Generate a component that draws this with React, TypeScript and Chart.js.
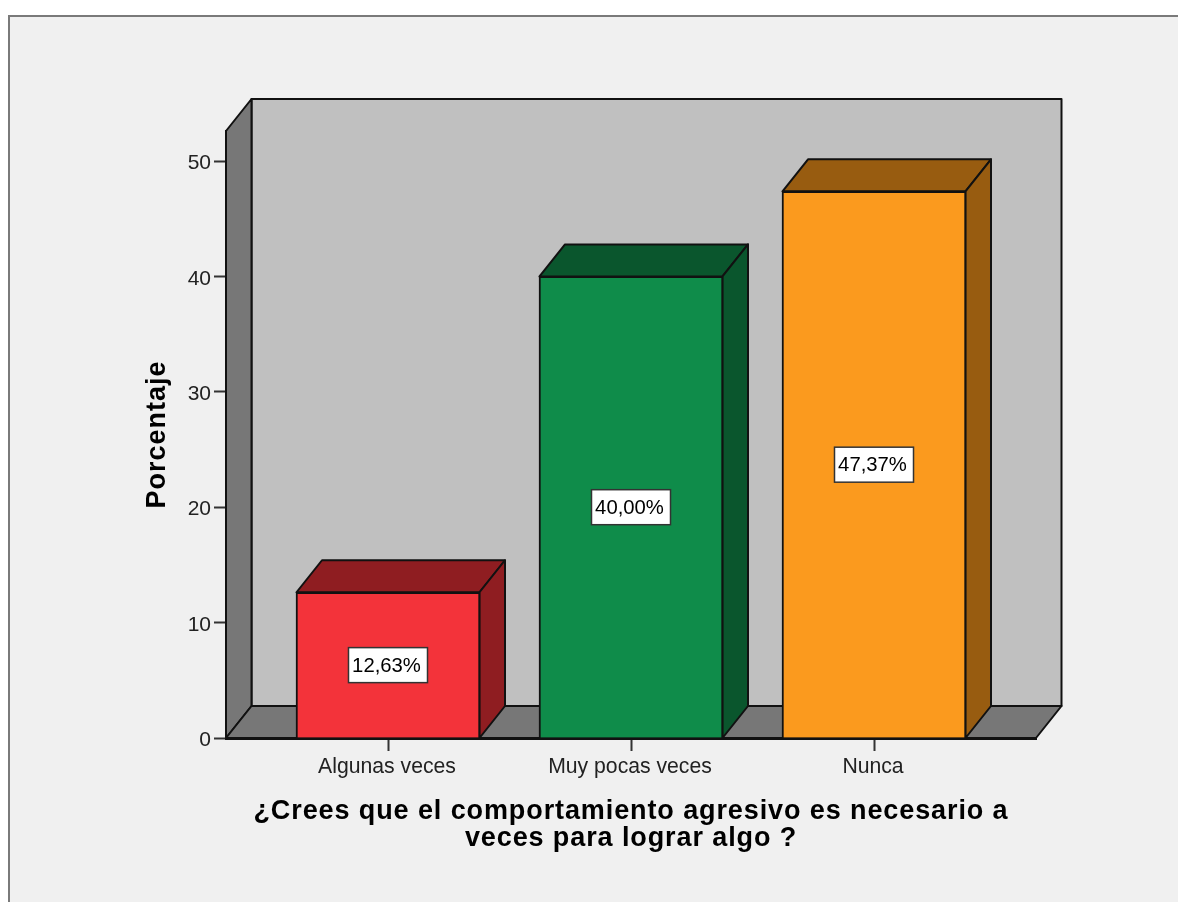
import { useEffect, useRef } from "react";
import { Chart, registerables } from "chart.js";

Chart.register(...registerables);

const categories = ["Algunas veces", "Muy pocas veces", "Nunca"];
const percentages = [12.63, 40.0, 47.37];
const valueLabels = ["12,63%", "40,00%", "47,37%"];
const frontColors = ["#f3333a", "#0f8c4a", "#fb9a1e"];
const shadeColors = ["#8f1d21", "#0a562d", "#985c10"];
const yTitle = "Porcentaje";
const xTitle = ["¿Crees que el comportamiento agresivo es necesario a", "veces para lograr algo ?"];

const FONT = "'Liberation Sans', Arial, sans-serif";
const DX = 25.5;
const DY = 32;
const BAR_W = 183;

function poly(ctx: CanvasRenderingContext2D, pts: number[][], fill: string, lw = 2) {
  ctx.beginPath();
  pts.forEach((p, i) => (i ? ctx.lineTo(p[0], p[1]) : ctx.moveTo(p[0], p[1])));
  ctx.closePath();
  ctx.fillStyle = fill;
  ctx.fill();
  ctx.lineWidth = lw;
  ctx.strokeStyle = "#111111";
  ctx.lineJoin = "round";
  ctx.stroke();
}

const scenePlugin = {
  id: "scene",
  beforeDraw(chart: any) {
    const { ctx, width, height, chartArea: a, scales } = chart;
    ctx.save();
    ctx.fillStyle = "#ffffff";
    ctx.fillRect(0, 0, width, height);
    ctx.fillStyle = "#f0f0f0";
    ctx.fillRect(9, 16, width - 9, height - 16);
    ctx.strokeStyle = "#7a7a7a";
    ctx.lineWidth = 2;
    ctx.beginPath();
    ctx.moveTo(9, height);
    ctx.lineTo(9, 16);
    ctx.lineTo(width, 16);
    ctx.stroke();

    const { left: l, right: r, top: t, bottom: b } = a;
    poly(ctx, [[l + DX, t - DY], [r + DX, t - DY], [r + DX, b - DY], [l + DX, b - DY]], "#c0c0c0");
    poly(ctx, [[l, b], [l + DX, b - DY], [l + DX, t - DY], [l, t]], "#777777");
    poly(ctx, [[l, b], [l + DX, b - DY], [r + DX, b - DY], [r, b]], "#777777");

    percentages.forEach((v, i) => {
      const cx = scales.x.getPixelForValue(i);
      const x0 = cx - BAR_W / 2;
      const x1 = cx + BAR_W / 2;
      const yt = scales.y.getPixelForValue(v);
      poly(ctx, [[x0, yt], [x0 + DX, yt - DY], [x1 + DX, yt - DY], [x1, yt]], shadeColors[i]);
      poly(ctx, [[x1, yt], [x1 + DX, yt - DY], [x1 + DX, b - DY], [x1, b]], shadeColors[i]);
    });
    ctx.restore();
  },
  afterDatasetsDraw(chart: any) {
    const { ctx, scales } = chart;
    ctx.save();
    ctx.font = `20.3px ${FONT}`;
    ctx.textAlign = "center";
    ctx.textBaseline = "middle";
    percentages.forEach((v, i) => {
      const cx = scales.x.getPixelForValue(i);
      const cy = scales.y.getPixelForValue(v / 2);
      ctx.fillStyle = "#ffffff";
      ctx.fillRect(cx - 39.5, cy - 17.5, 79, 35);
      ctx.strokeStyle = "#333333";
      ctx.lineWidth = 1.5;
      ctx.strokeRect(cx - 39.5, cy - 17.5, 79, 35);
      ctx.fillStyle = "#000000";
      ctx.fillText(valueLabels[i], cx - 1.5, cy + 1);
    });
    ctx.restore();
  },
};

function spacedTitle(scale: any, spacing: string) {
  if (scale.__spaced) return;
  scale.__spaced = true;
  const original = scale.drawTitle;
  scale.drawTitle = function () {
    this.ctx.letterSpacing = spacing;
    original.call(this);
    this.ctx.letterSpacing = "0px";
  };
}

export default function App() {
  const ref = useRef<HTMLCanvasElement>(null);
  useEffect(() => {
    document.body.style.margin = "0";
    const chart = new Chart(ref.current as HTMLCanvasElement, {
      type: "bar",
      data: {
        datasets: [
          {
            data: percentages.map((v, i) => ({ x: i, y: v })),
            backgroundColor: frontColors,
            borderColor: "#111111",
            borderWidth: 2,
            barThickness: BAR_W + 1,
          },
        ],
      },
      options: {
        responsive: false,
        animation: false,
        layout: { padding: { left: 0, right: 142, top: 131, bottom: 0 } },
        plugins: { legend: { display: false }, tooltip: { enabled: false } },
        scales: {
          x: {
            type: "linear",
            offset: false,
            min: -2 / 3,
            max: 8 / 3,
            afterFit: (s: any) => {
              s.height = 164;
            },
            beforeUpdate: (s: any) => spacedTitle(s, "0.9px"),
            afterBuildTicks: (s: any) => {
              s.ticks = categories.map((_, i) => ({ value: i }));
            },
            grid: { offset: false, drawOnChartArea: false, drawTicks: true, tickLength: 13, tickColor: "#333333", tickWidth: 2 },
            border: { color: "#111111", width: 3 },
            ticks: {
              autoSkip: false,
              maxRotation: 0,
              padding: 3.5,
              labelOffset: -1,
              color: "#222222",
              font: { family: FONT, size: 21.2 },
              callback: (v: any) => categories[v],
            },
            title: {
              display: true,
              text: xTitle,
              color: "#000000",
              font: { family: FONT, size: 27, weight: "bold", lineHeight: 1 },
              padding: { top: 0, bottom: 49.5 },
            },
          },
          y: {
            type: "linear",
            min: 0,
            max: 52.6,
            afterFit: (s: any) => {
              s.width = 226;
            },
            beforeUpdate: (s: any) => spacedTitle(s, "1px"),
            grid: { drawOnChartArea: false, drawTicks: true, tickLength: 12, tickColor: "#333333", tickWidth: 2 },
            border: { color: "#111111", width: 2 },
            ticks: {
              stepSize: 10,
              includeBounds: false,
              padding: 3,
              labelOffset: 2.5,
              color: "#222222",
              font: { family: FONT, size: 21 },
            },
            title: {
              display: true,
              text: yTitle,
              color: "#000000",
              font: { family: FONT, size: 27, weight: "bold", lineHeight: 1.2 },
              padding: { top: 141, bottom: 0 },
            },
          },
        },
      },
      plugins: [scenePlugin],
    } as any);
    return () => chart.destroy();
  }, []);
  return (
    <canvas
      ref={ref}
      width={1178}
      height={902}
      style={{ position: "absolute", left: 0, top: 0, width: 1178, height: 902, filter: "blur(0.6px)" }}
    />
  );
}
